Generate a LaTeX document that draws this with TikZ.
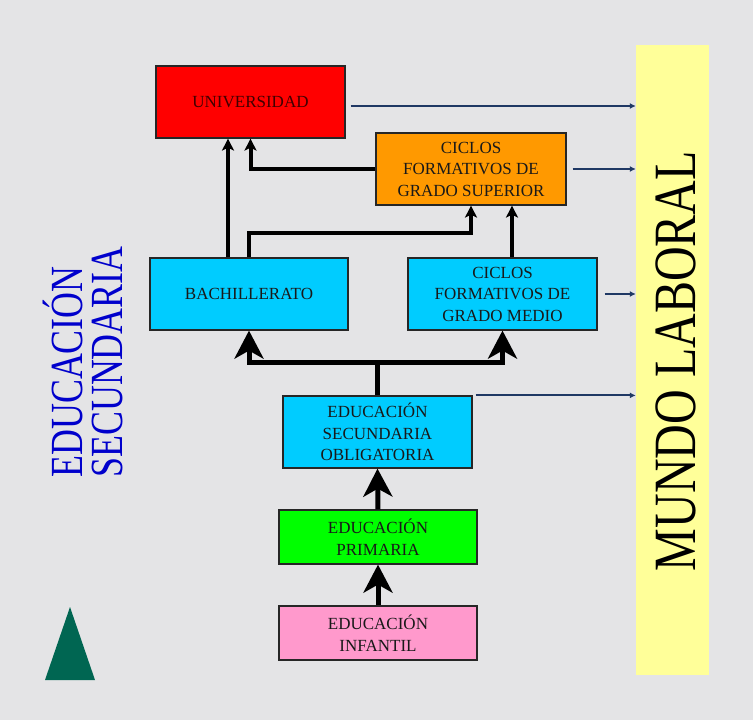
\documentclass[tikz,border=0pt]{standalone}
\usepackage{fontspec}
\setmainfont{Liberation Serif}
\newfontfamily\narrowserif[FakeStretch=0.78]{Liberation Serif}
\newfontfamily\laboralfont[FakeStretch=0.8]{Liberation Serif}
\usepackage{tikz}
\usetikzlibrary{arrows.meta}

\definecolor{unired}{RGB}{255,0,0}
\definecolor{suporange}{RGB}{255,153,0}
\definecolor{boxcyan}{RGB}{0,204,255}
\definecolor{primgreen}{RGB}{0,255,0}
\definecolor{infpink}{RGB}{255,153,204}
\definecolor{laboral}{RGB}{255,255,153}
\definecolor{marble}{RGB}{228,228,230}
\definecolor{linkblue}{RGB}{31,56,100}
\definecolor{tritone}{RGB}{0,102,82}
\definecolor{secblue}{RGB}{0,0,204}

\begin{document}
\begin{tikzpicture}[x=1pt,y=-1pt,
    level/.style={draw=black!85, line width=1.2pt, align=center, inner sep=0pt,
        text=black!90, font=\fontsize{17}{21.5}\selectfont},
    bigstep/.style={line width=5pt, line join=miter,
        -{Stealth[length=28pt,width=29pt,inset=8pt]}},
    smallstep/.style={line width=4pt, line join=miter,
        -{Stealth[length=12pt,width=12pt,inset=3pt]}},
    worklink/.style={linkblue, line width=2pt, -{Latex[length=6pt,width=6pt]}}]

% Background
\fill[marble] (0,0) rectangle (753,720);
\useasboundingbox (0,0) rectangle (753,720);

% Mundo laboral
\node[fill=laboral, minimum width=73pt, minimum height=630pt, inner sep=0pt] (mundo) at (672.5,360) {};
\node[rotate=90, text=black, font=\laboralfont\fontsize{60}{60}\selectfont] (mundotext) at (676,361) {MUNDO LABORAL};

% Levels
\node[level, fill=unired, minimum width=189pt, minimum height=72pt, text=black!75!red] (uni) at (250.5,102) {UNIVERSIDAD};
\node[level, fill=suporange, minimum width=190pt, minimum height=72pt] (superior) at (471,169) {CICLOS\\FORMATIVOS DE\\GRADO SUPERIOR};
\node[level, fill=boxcyan, minimum width=198pt, minimum height=72pt] (bach) at (249,294) {BACHILLERATO};
\node[level, fill=boxcyan, minimum width=189pt, minimum height=72pt] (medio) at (502.5,294) {CICLOS\\FORMATIVOS DE\\GRADO MEDIO};
\node[level, fill=boxcyan, minimum width=189pt, minimum height=72pt] (eso) at (377.5,432) {EDUCACIÓN\\SECUNDARIA\\OBLIGATORIA};
\node[level, fill=primgreen, minimum width=198pt, minimum height=54pt] (primaria) at (378,537) {EDUCACIÓN\\PRIMARIA};
\node[level, fill=infpink, minimum width=198pt, minimum height=54pt] (infantil) at (378,633) {EDUCACIÓN\\INFANTIL};

% Side label
\node[rotate=90, align=left, text=secblue, font=\narrowserif\fontsize{46}{40}\selectfont] (seclabel) at (83,362) {EDUCACIÓN\\SECUNDARIA};

% Triangle
\fill[tritone] (70,607) -- (95,680) -- (45,680) -- cycle;

% Thick arrows
\draw[bigstep] (infantil.north) -- (primaria.south);
\draw[bigstep] (primaria.north) -- (eso.south);
\coordinate (split) at ([yshift=33pt]eso.north);
\draw[bigstep] (eso.north) -- (split) -| (bach.south);
\draw[bigstep] (split) -| (medio.south);
\draw[smallstep] ([xshift=-21pt]bach.north) -- ([xshift=-21pt]bach.north |- uni.south);
\draw[smallstep] (bach.north) |- ([yshift=-27pt]superior.south) -- (superior.south);
\draw[smallstep] ([xshift=9.5pt]medio.north) -- ([xshift=9.5pt]medio.north |- superior.south);
\draw[smallstep] (superior.west) -| (uni.south);

% To the labour market
\draw[worklink] ([xshift=5pt,yshift=-4pt]uni.east) -- ([yshift=-4pt]uni.east -| mundo.west);
\draw[worklink] ([xshift=6pt]superior.east) -- (superior.east -| mundo.west);
\draw[worklink] ([xshift=7pt]medio.east) -- (medio.east -| mundo.west);
\draw[worklink] ([xshift=3pt]eso.north east) -- (eso.north east -| mundo.west);

\end{tikzpicture}
\end{document}
